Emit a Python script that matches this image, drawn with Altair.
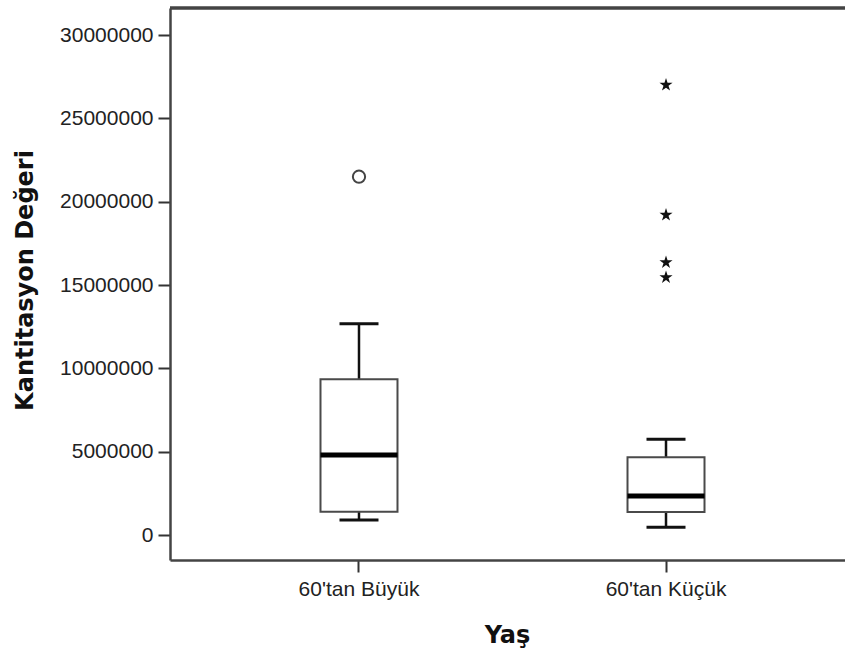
import altair as alt
import pandas as pd

# ---- data ----
groups = ["60'tan Büyük", "60'tan Küçük"]
whisker_low = [900000, 460000]
q1 = [1400000, 1380000]
median = [4800000, 2340000]
q3 = [9340000, 4660000]
whisker_high = [12680000, 5740000]

circle_groups = ["60'tan Büyük"]
circle_values = [21500000]
star_groups = ["60'tan Küçük", "60'tan Küçük", "60'tan Küçük", "60'tan Küçük"]
star_values = [27000000, 19200000, 16360000, 15460000]

y_ticks = [0, 5000000, 10000000, 15000000, 20000000, 25000000, 30000000]

box_df = pd.DataFrame({"group": groups, "lo": whisker_low, "q1": q1,
                       "med": median, "q3": q3, "hi": whisker_high})
circ_df = pd.DataFrame({"group": circle_groups, "value": circle_values})
star_df = pd.DataFrame({"group": star_groups, "value": star_values})

W, H = 675, 552
AX = "#444444"

x_enc = alt.X(
    "group:N",
    sort=groups,
    scale=alt.Scale(paddingInner=0, paddingOuter=0.0993, align=0.582),
    axis=alt.Axis(
        title="Yaş", labelAngle=0, labelFont="Liberation Sans", labelFontSize=21,
        labelColor="#222222", labelPadding=6, tickSize=12, tickWidth=2,
        tickColor="#333333", domainColor=AX, domainWidth=2.5,
        titleFont="DejaVu Sans", titleFontSize=24, titleFontWeight="bold",
        titleColor="#111111", titleX=337, titleY=75, titleBaseline="middle",
        titleAlign="center",
    ),
)
y_scale = alt.Scale(domain=[-1500000, 31620000], nice=False, zero=False)
y_axis = alt.Axis(
    title="Kantitasyon Değeri", values=y_ticks, format="d", grid=False,
    labelFont="Liberation Sans", labelFontSize=21, labelColor="#222222",
    labelPadding=5, tickSize=12, tickWidth=2, tickColor="#333333",
    domainColor=AX, domainWidth=2.5,
    titleFont="DejaVu Sans", titleFontSize=24, titleFontWeight="bold",
    titleColor="#111111", titleX=-145, titleY=272, titleBaseline="middle",
    titleAlign="center", titleAngle=270,
)

base = alt.Chart(box_df)

upper = base.mark_rule(color="#111111", strokeWidth=2.5).encode(
    x=x_enc, y=alt.Y("q3:Q", scale=y_scale, axis=y_axis), y2="hi:Q")
lower = base.mark_rule(color="#111111", strokeWidth=2.5).encode(
    x=x_enc, y=alt.Y("lo:Q", scale=y_scale, axis=y_axis), y2="q1:Q")
box = base.mark_bar(size=77, fill="white", stroke="#4a4a4a", strokeWidth=2).encode(
    x=x_enc, y=alt.Y("q1:Q", scale=y_scale, axis=y_axis), y2="q3:Q")
med = base.mark_tick(size=77, thickness=5, color="#000000", opacity=1).encode(
    x=x_enc, y=alt.Y("med:Q", scale=y_scale, axis=y_axis))
cap_hi = base.mark_tick(size=39, thickness=3, color="#111111", opacity=1).encode(
    x=x_enc, y=alt.Y("hi:Q", scale=y_scale, axis=y_axis))
cap_lo = base.mark_tick(size=39, thickness=3, color="#111111", opacity=1).encode(
    x=x_enc, y=alt.Y("lo:Q", scale=y_scale, axis=y_axis))

circles = alt.Chart(circ_df).mark_point(
    shape="circle", size=150, filled=False, stroke="#444444", strokeWidth=2, opacity=1
).encode(x=x_enc, y=alt.Y("value:Q", scale=y_scale, axis=y_axis))

STAR = ("M0,-1L0.2245,-0.309L0.951,-0.309L0.363,0.118L0.588,0.809L0,0.382"
        "L-0.588,0.809L-0.363,0.118L-0.951,-0.309L-0.2245,-0.309Z")
stars = alt.Chart(star_df).mark_point(
    shape=STAR, size=190, filled=True, color="#111111", opacity=1
).encode(x=x_enc, y=alt.Y("value:Q", scale=y_scale, axis=y_axis))

top_line = base.mark_rule(color=AX, strokeWidth=3).encode(
    y=alt.value(0), x=alt.value(0), x2=alt.value(W))

chart = alt.layer(
    top_line, upper, lower, box, med, cap_hi, cap_lo, circles, stars
).properties(
    width=W, height=H,
    autosize=alt.AutoSizeParams(type="none"),
    padding={"left": 170, "top": 8, "right": 0, "bottom": 100},
    background="white",
).configure_view(stroke=None)

chart.save("out.html", embed_options={"renderer": "svg", "actions": False})
